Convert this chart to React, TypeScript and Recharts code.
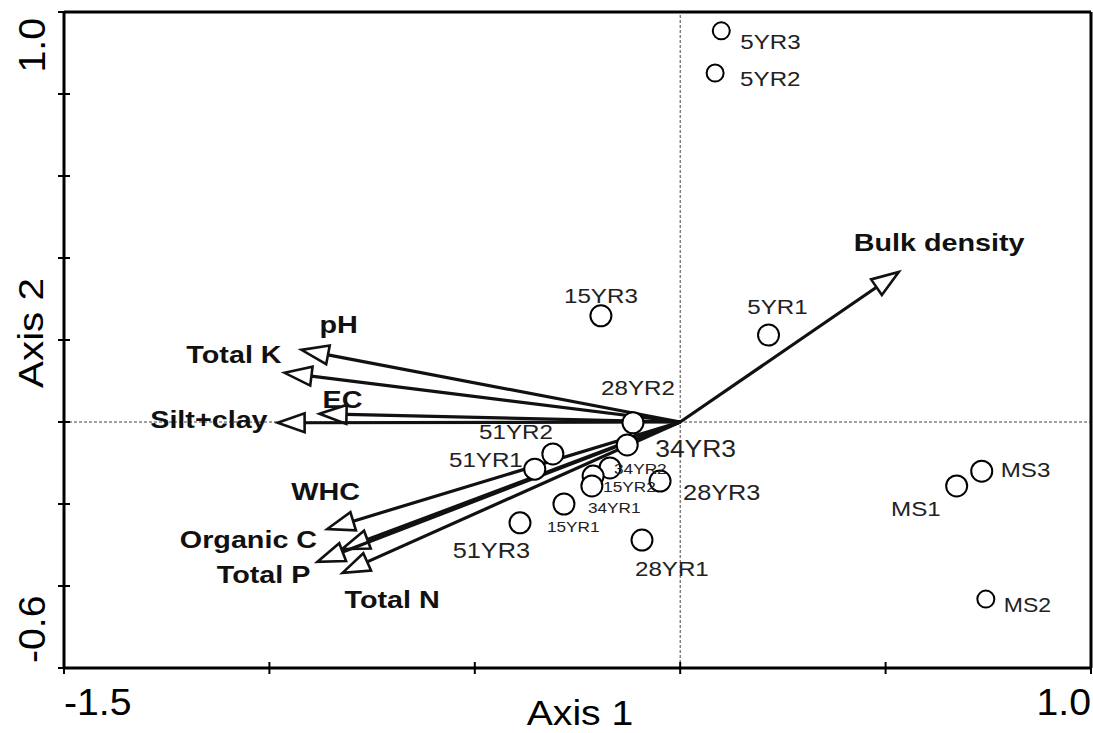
import React from 'react';
import { ScatterChart, Scatter, XAxis, YAxis, ReferenceLine, Customized } from 'recharts';

// sample scores (site points)
const sampleNames = ['5YR3', '5YR2', '15YR3', '5YR1', '28YR2', '34YR3', '51YR2', '51YR1', '34YR2', '15YR2', '34YR1', '15YR1', '28YR3', '51YR3', '28YR1', 'MS1', 'MS3', 'MS2'];
const sampleAxis1 = [0.100, 0.085, -0.193, 0.215, -0.115, -0.129, -0.310, -0.354, -0.171, -0.212, -0.215, -0.283, -0.049, -0.390, -0.093, 0.673, 0.734, 0.744];
const sampleAxis2 = [0.954, 0.851, 0.259, 0.212, -0.002, -0.056, -0.078, -0.115, -0.112, -0.132, -0.156, -0.200, -0.144, -0.246, -0.288, -0.156, -0.120, -0.432];

// soil variable vectors (biplot arrows)
const variableNames = ['Bulk density', 'pH', 'Total K', 'EC', 'Silt+clay', 'WHC', 'Organic C', 'Total P', 'Total N'];
const variableAxis1 = [0.532, -0.922, -0.963, -0.878, -0.980, -0.859, -0.823, -0.883, -0.822];
const variableAxis2 = [0.366, 0.176, 0.120, 0.020, -0.002, -0.261, -0.310, -0.341, -0.368];

const xTicks = [-1.5, -1, -0.5, 0, 0.5, 1];
const xTickLabels = ['-1.5', '', '', '', '', '1.0'];
const yTicks = [-0.6, -0.4, -0.2, 0, 0.2, 0.4, 0.6, 0.8, 1];
const yTickLabels = ['-0.6', '', '', '', '', '', '', '', '1.0'];

const samples = sampleNames.map((name, i) => ({ name, x: sampleAxis1[i], y: sampleAxis2[i] }));

// label placement: [dx, dy, anchor, fontSize]
const sampleLabelPos: Record<string, [number, number, string, number]> = {
  '5YR3': [19, 18, 'start', 21],
  '5YR2': [25, 13, 'start', 21],
  '15YR3': [0, -13, 'middle', 21],
  '5YR1': [9, -21, 'middle', 21],
  '28YR2': [5, -28, 'middle', 21],
  '34YR3': [28, 12, 'start', 23],
  '51YR2': [0, -15, 'end', 21],
  '51YR1': [-12, -2, 'end', 21],
  '34YR2': [4, 6, 'start', 15],
  '15YR2': [10, 16, 'start', 15],
  '34YR1': [-4, 27, 'start', 15],
  '15YR1': [-17, 28, 'start', 15],
  '28YR3': [23, 19, 'start', 22],
  '51YR3': [10, 35, 'end', 22],
  '28YR1': [-7, 36, 'start', 21],
  MS1: [-16, 30, 'end', 21],
  MS3: [19, 6, 'start', 21],
  MS2: [18, 13, 'start', 20],
};
const smallMarkers = ['5YR3', '5YR2', 'MS2'];

const variableLabelPos: Record<string, [number, number, string]> = {
  'Bulk density': [-45, -21, 'start'],
  pH: [18, -17, 'start'],
  'Total K': [-3, -10, 'end'],
  EC: [3, -6, 'start'],
  'Silt+clay': [-10, 5, 'end'],
  WHC: [-36, -29, 'start'],
  'Organic C': [-25, -1, 'end'],
  'Total P': [-7, 21, 'end'],
  'Total N': [2, 35, 'start'],
};

const FONT = '"Liberation Sans", Arial, sans-serif';
const INK = '#111';
const margin = { top: 12, right: 2, bottom: 64, left: 63 };
const W = 1093;
const H = 733;

// text widened a little, like the scanned original
const WideText = ({ x, y, anchor = 'start', sx = 1.15, rotate = 0, children, ...rest }: any) => (
  <text
    x={0}
    y={0}
    transform={`translate(${x} ${y}) rotate(${rotate}) scale(${sx} 1)`}
    textAnchor={anchor}
    fontFamily={FONT}
    {...rest}
  >
    {children}
  </text>
);

const XTick = (props: any) => {
  const { x, payload } = props;
  const y = 668;
  const i = xTicks.indexOf(payload.value);
  const label = xTickLabels[i];
  return (
    <g>
      <line x1={x} x2={x} y1={y - 6} y2={y + 6} stroke="#000" strokeWidth={2} />
      {label && (
        <WideText x={x} y={y + 47} anchor={i === 0 ? 'start' : 'end'} sx={1.06} fontSize={37} fill="#000">
          {label}
        </WideText>
      )}
    </g>
  );
};

const YTick = (props: any) => {
  const { y, payload } = props;
  const x = 64;
  const i = yTicks.indexOf(payload.value);
  const label = yTickLabels[i];
  const tx = x - 19;
  const ty = i === 0 ? y - 5 : y + 6;
  return (
    <g>
      <line x1={x - 6} x2={x + 6} y1={y} y2={y} stroke="#000" strokeWidth={2} />
      {label && (
        <WideText x={tx} y={ty} rotate={-90} anchor={i === 0 ? 'start' : 'end'} sx={1.06} fontSize={37} fill="#000">
          {label}
        </WideText>
      )}
    </g>
  );
};

const SampleMarker = (props: any) => {
  const { cx, cy, payload } = props;
  const r = smallMarkers.includes(payload.name) ? 8.5 : 10.5;
  return <circle cx={cx} cy={cy} r={r} fill="#fff" stroke="#000" strokeWidth={2} />;
};

const SampleLabel = (props: any) => {
  const { cx, cy, payload } = props;
  const [dx, dy, anchor, size] = sampleLabelPos[payload.name];
  return (
    <WideText x={cx + dx} y={cy + dy} anchor={anchor} sx={1.15} fontSize={size} fill="#222">
      {payload.name}
    </WideText>
  );
};

const makeArrow = (name: string) => (p: any) => {
  const { x1, y1, x2, y2 } = p;
  const dx = x2 - x1;
  const dy = y2 - y1;
  const len = Math.hypot(dx, dy) || 1;
  const ux = dx / len;
  const uy = dy / len;
  const head = 27;
  const half = 9.5;
  const bx = x2 - ux * head;
  const by = y2 - uy * head;
  const pts = `${x2},${y2} ${bx - uy * half},${by + ux * half} ${bx + uy * half},${by - ux * half}`;
  const [ldx, ldy, anchor] = variableLabelPos[name];
  return (
    <g>
      <line x1={x1} y1={y1} x2={bx} y2={by} stroke={INK} strokeWidth={3.2} />
      <polygon points={pts} fill="#fff" stroke={INK} strokeWidth={2.6} />
      <WideText x={x2 + ldx} y={y2 + ldy} anchor={anchor} sx={1.25} fontSize={23} fontWeight="bold" fill="#111">
        {name}
      </WideText>
    </g>
  );
};

const AxisTitles = () => (
  <g fill="#000">
    <WideText x={580} y={725} anchor="middle" sx={1.12} fontSize={35}>
      Axis 1
    </WideText>
    <WideText x={43} y={333} rotate={-90} anchor="middle" sx={1.12} fontSize={36}>
      Axis 2
    </WideText>
  </g>
);

export default function App() {
  return (
    <div style={{ width: W, height: H, background: '#fff' }}>
      <style>{'body{margin:0;}'}</style>
      <ScatterChart width={W} height={H} margin={margin}>
        <XAxis
          type="number"
          dataKey="x"
          domain={[-1.5, 1]}
          allowDataOverflow
          ticks={xTicks}
          interval={0}
          height={1}
          tickSize={0}
          tickMargin={0}
          tickLine={false}
          axisLine={false}
          tick={<XTick />}
        />
        <YAxis
          type="number"
          dataKey="y"
          domain={[-0.6, 1]}
          allowDataOverflow
          ticks={yTicks}
          interval={0}
          width={1}
          tickSize={0}
          tickMargin={0}
          tickLine={false}
          axisLine={false}
          tick={<YTick />}
        />
        <ReferenceLine x={0} stroke="#444" strokeWidth={1} strokeDasharray="3 2" />
        <ReferenceLine y={0} stroke="#444" strokeWidth={1} strokeDasharray="3 2" />
        <ReferenceLine y={1} stroke="#000" strokeWidth={3} />
        <ReferenceLine x={1} stroke="#000" strokeWidth={3} />
        <ReferenceLine y={-0.6} stroke="#000" strokeWidth={3} />
        <ReferenceLine x={-1.5} stroke="#000" strokeWidth={3} />
        {variableNames.map((name, i) => (
          <ReferenceLine
            key={name}
            segment={[
              { x: 0, y: 0 },
              { x: variableAxis1[i], y: variableAxis2[i] },
            ]}
            shape={makeArrow(name)}
          />
        ))}
        <Scatter data={samples} shape={<SampleMarker />} isAnimationActive={false} />
        <Scatter data={samples} shape={<SampleLabel />} isAnimationActive={false} />
        <Customized component={<AxisTitles />} />
      </ScatterChart>
    </div>
  );
}
